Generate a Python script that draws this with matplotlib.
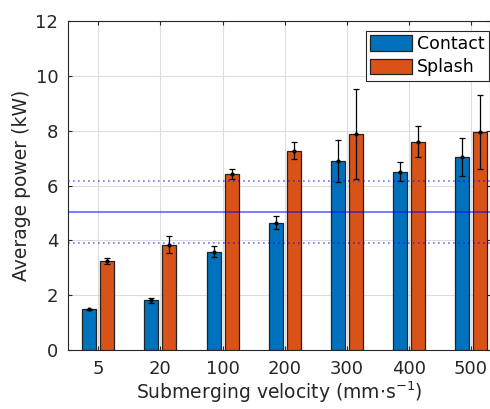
import matplotlib
matplotlib.use('Agg')
import matplotlib.pyplot as plt
import numpy as np

plt.rcParams['font.family'] = ['DejaVu Sans']

# data
velocities = ['5', '20', '100', '200', '300', '400', '500']
contact_mean = [1.48, 1.81, 3.59, 4.65, 6.89, 6.51, 7.05]
contact_err = [0.03, 0.085, 0.20, 0.22, 0.78, 0.33, 0.69]
splash_mean = [3.24, 3.84, 6.43, 7.27, 7.88, 7.60, 7.96]
splash_err = [0.11, 0.32, 0.19, 0.32, 1.64, 0.57, 1.35]
ref_mean = 5.05
ref_band = [3.89, 6.17]

c_blue, c_orange = '#0072BD', '#D95319'

fig = plt.figure(figsize=(4.9, 4.09), dpi=100)
ax = fig.add_axes([68/490, 59/409, 422/490, 329/409])

x = np.arange(1, len(velocities) + 1)
off, w = 0.145, 0.226
ax.bar(x - off, contact_mean, w, color=c_blue, edgecolor='#222222', lw=0.9, label='Contact', zorder=3)
ax.bar(x + off, splash_mean, w, color=c_orange, edgecolor='#222222', lw=0.9, label='Splash', zorder=3)
ax.errorbar(x - off, contact_mean, yerr=contact_err, fmt='.', color='black', ms=4,
            elinewidth=0.9, capsize=2.5, capthick=0.9, zorder=4)
ax.errorbar(x + off, splash_mean, yerr=splash_err, fmt='.', color='black', ms=4,
            elinewidth=0.9, capsize=2.5, capthick=0.9, zorder=4)

ax.axhline(ref_mean, color='#0000ff', alpha=0.55, lw=1.3, zorder=5)
for yv in ref_band:
    ax.axhline(yv, color='#0000ff', alpha=0.55, lw=1.2, ls=(0, (1, 2)), zorder=5)

ax.set_xlim(0.51, 7.31)
ax.set_ylim(0, 12)
ax.set_xticks(x)
ax.set_xticklabels(velocities)
ax.set_yticks(range(0, 13, 2))
ax.tick_params(direction='in', labelsize=13, top=True, right=True, length=3,
               colors='#262626', pad=7)
ax.grid(True, color='#dddddd', lw=0.8, zorder=0)
ax.set_axisbelow(True)
for s in ax.spines.values():
    s.set_color('#262626')
    s.set_linewidth(0.8)

ax.set_ylabel('Average power (kW)', fontsize=13.5, color='#262626', labelpad=3)
ax.set_xlabel(r'Submerging velocity (mm$\cdot$s$^{-1}$)', fontsize=13.5, color='#262626', labelpad=1)

leg = ax.legend(loc='upper right', bbox_to_anchor=(0.998, 0.970), fontsize=12.5,
                fancybox=False, framealpha=1, edgecolor='#262626',
                handlelength=2.4, handleheight=1.0, borderaxespad=0,
                borderpad=0.25, labelspacing=0.3, handletextpad=0.3)
leg.get_frame().set_linewidth(0.8)
leg.set_zorder(10)

fig.savefig('out.png', dpi=100, facecolor='white')
